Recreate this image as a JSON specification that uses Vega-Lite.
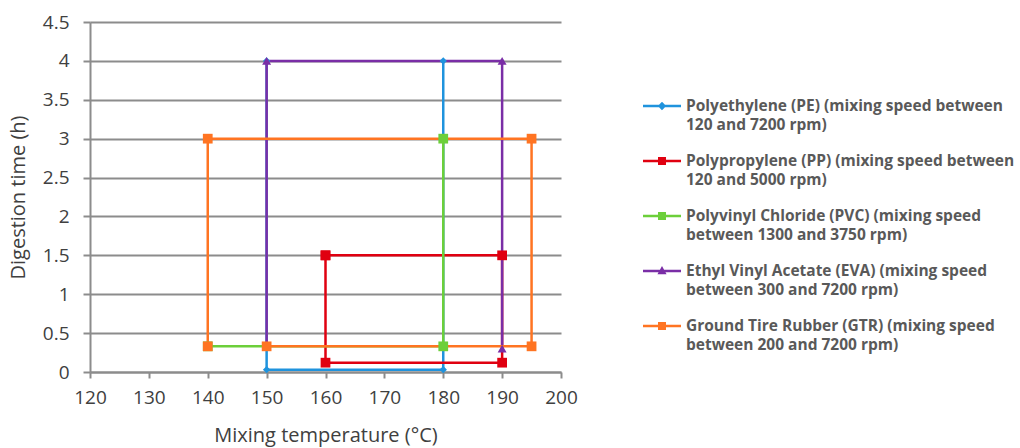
{
  "$schema": "https://vega.github.io/schema/vega-lite/v6.json",
  "width": 471,
  "height": 350,
  "autosize": {"type": "none"},
  "padding": {"left": 90, "top": 22, "right": 459, "bottom": 76},
  "background": "white",
  "config": {
    "view": {"stroke": null},
    "font": "Open Sans",
    "axis": {
      "labelFont": "Open Sans",
      "labelFontSize": 19,
      "labelColor": "#404040",
      "labelFlush": false,
      "titleFont": "Open Sans",
      "titleFontSize": 20,
      "titleFontWeight": "normal",
      "titleColor": "#404040",
      "domainColor": "#8c8c8c",
      "domainWidth": 2,
      "tickColor": "#8c8c8c",
      "tickWidth": 2,
      "gridColor": "#8c8c8c",
      "gridWidth": 2,
      "gridOpacity": 1
    }
  },
  "data": {
    "values": [
      {"series": "PE", "t": 150, "h": 4, "o": 0},
      {"series": "PE", "t": 150, "h": 0.03, "o": 1},
      {"series": "PE", "t": 180, "h": 0.03, "o": 2},
      {"series": "PE", "t": 180, "h": 4, "o": 3},
      {"series": "PP", "t": 160, "h": 1.5, "o": 0},
      {"series": "PP", "t": 160, "h": 0.12, "o": 1},
      {"series": "PP", "t": 190, "h": 0.12, "o": 2},
      {"series": "PP", "t": 190, "h": 1.5, "o": 3},
      {"series": "PP", "t": 160, "h": 1.5, "o": 4},
      {"series": "PVC", "t": 140, "h": 0.33, "o": 0},
      {"series": "PVC", "t": 180, "h": 0.33, "o": 1},
      {"series": "PVC", "t": 180, "h": 3, "o": 2},
      {"series": "EVA", "t": 150, "h": 0.33, "o": 0},
      {"series": "EVA", "t": 150, "h": 4, "o": 1},
      {"series": "EVA", "t": 190, "h": 4, "o": 2},
      {"series": "EVA", "t": 190, "h": 0.3, "o": 3},
      {"series": "GTR", "t": 150, "h": 0.33, "o": 0},
      {"series": "GTR", "t": 195, "h": 0.33, "o": 1},
      {"series": "GTR", "t": 195, "h": 3, "o": 2},
      {"series": "GTR", "t": 140, "h": 3, "o": 3},
      {"series": "GTR", "t": 140, "h": 0.33, "o": 4}
    ]
  },
  "encoding": {
    "x": {
      "field": "t",
      "type": "quantitative",
      "scale": {"domain": [120, 200], "nice": false, "zero": false},
      "axis": {
        "values": [120, 130, 140, 150, 160, 170, 180, 190, 200],
        "grid": false,
        "tickSize": 6,
        "labelPadding": 10,
        "title": "Mixing temperature (°C)",
        "titlePadding": 18
      }
    },
    "y": {
      "field": "h",
      "type": "quantitative",
      "scale": {"domain": [0, 4.5], "nice": false},
      "axis": {
        "values": [0, 0.5, 1, 1.5, 2, 2.5, 3, 3.5, 4, 4.5],
        "format": "~g",
        "grid": true,
        "tickSize": 7,
        "labelPadding": 14,
        "title": "Digestion time (h)",
        "titlePadding": 14
      }
    },
    "color": {
      "field": "series",
      "type": "nominal",
      "scale": {
        "domain": ["PE", "PP", "PVC", "EVA", "GTR"],
        "range": ["#1f93dd", "#e00010", "#6ccf3a", "#7a2ea6", "#ff7422"]
      },
      "legend": {
        "orient": "none",
        "legendX": 553,
        "legendY": 65,
        "title": null,
        "padding": 0,
        "symbolType": "M-1,-0.06H1V0.06H-1Z",
        "symbolSize": 1444,
        "symbolStrokeWidth": 0,
        "labelOffset": 5,
        "rowPadding": 8,
        "labelFont": "Open Sans",
        "labelFontSize": 15.5,
        "labelFontWeight": "bold",
        "labelColor": "#595959",
        "labelLimit": 400,
        "labelExpr": "datum.value == 'PE' ? ['Polyethylene (PE) (mixing speed between', '120 and 7200 rpm)'] : datum.value == 'PP' ? ['Polypropylene (PP) (mixing speed between', '120 and 5000 rpm)'] : datum.value == 'PVC' ? ['Polyvinyl Chloride (PVC) (mixing speed', 'between 1300 and 3750 rpm)'] : datum.value == 'EVA' ? ['Ethyl Vinyl Acetate (EVA) (mixing speed', 'between 300 and 7200 rpm)'] : ['Ground Tire Rubber (GTR) (mixing speed', 'between 200 and 7200 rpm)']",
        "encode": {
          "symbols": {
            "update": {
              "fill": {"scale": "color", "field": "value"},
              "fillOpacity": {"value": 1},
              "strokeWidth": {"value": 0},
              "size": {"value": 1444},
              "shape": {"signal": "datum.value == 'PE' ? 'M-1,-0.06H1V0.06H-1ZM0,-0.22L0.22,0L0,0.22L-0.22,0Z' : datum.value == 'EVA' ? 'M-1,-0.06H1V0.06H-1ZM0,-0.26L0.24,0.17L-0.24,0.17Z' : 'M-1,-0.06H1V0.06H-1ZM-0.21,-0.21H0.21V0.21H-0.21Z'"}
            }
          },
          "labels": {
            "update": {"lineHeight": {"value": 19}}
          }
        }
      }
    }
  },
  "layer": [
    {
      "mark": {"type": "line", "strokeWidth": 2.5},
      "encoding": {
        "order": {"field": "o", "type": "quantitative"}
      }
    },
    {
      "transform": [{"filter": "datum.series == 'PE'"}],
      "mark": {"type": "point", "filled": true, "opacity": 1, "shape": "diamond", "size": 55}
    },
    {
      "transform": [{"filter": "datum.series == 'PP' || datum.series == 'PVC'"}],
      "mark": {"type": "point", "filled": true, "opacity": 1, "shape": "square", "size": 95}
    },
    {
      "transform": [{"filter": "datum.series == 'EVA'"}],
      "mark": {"type": "point", "filled": true, "opacity": 1, "shape": "triangle-up", "size": 80}
    },
    {
      "transform": [{"filter": "datum.series == 'GTR'"}],
      "mark": {"type": "point", "filled": true, "opacity": 1, "shape": "square", "size": 95}
    }
  ]
}
